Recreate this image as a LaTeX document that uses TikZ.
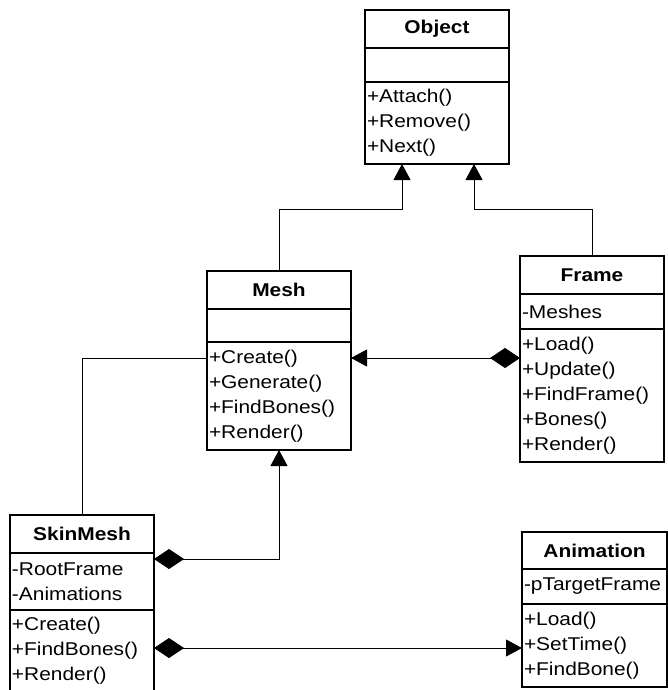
\documentclass[tikz,border=0pt]{standalone}
\usepackage{fontspec}
\setmainfont{Liberation Sans}[FakeStretch=1.13]
\usetikzlibrary{positioning,calc,arrows.meta}

\tikzset{
	cls/.style={draw, line width=1.5pt, inner xsep=2pt, inner ysep=0pt, outer sep=0pt, minimum width=144pt, text width=140pt},
	clsname/.style={cls, anchor=north west, align=center, font=\fontsize{18.5}{25}\selectfont\bfseries},
	clspart/.style={cls, align=left, font=\fontsize{18.5}{25}\selectfont},
	isa/.style={line width=0.8pt, -{Triangle[length=16pt,width=17pt]}},
	has/.style={line width=0.8pt, {Diamond[length=30pt,width=20pt]}-{Triangle[length=16pt,width=17pt]}},
	link/.style={line width=0.8pt}
}

\begin{document}
\begin{tikzpicture}[x=1pt,y=-1pt]
	\useasboundingbox (0,0) rectangle (668,690);
	
	% Object
	\node[clsname, minimum height=38pt] (obj) at (365,10) {Object};
	\node[clspart, minimum height=34pt, below=0pt of obj] (objA) {};
	\node[clspart, minimum height=82pt, below=0pt of objA] (objM) {+Attach()\\+Remove()\\+Next()};
	
	% Mesh
	\node[clsname, minimum height=38pt] (mesh) at (207,271) {Mesh};
	\node[clspart, minimum height=33pt, below=0pt of mesh] (meshA) {};
	\node[clspart, minimum height=108pt, below=0pt of meshA] (meshM) {+Create()\\+Generate()\\+FindBones()\\+Render()};
	
	% Frame
	\node[clsname, minimum height=38pt] (frame) at (520,256) {Frame};
	\node[clspart, minimum height=35pt, below=0pt of frame] (frameA) {-Meshes};
	\node[clspart, minimum height=133pt, below=0pt of frameA] (frameM) {+Load()\\+Update()\\+FindFrame()\\+Bones()\\+Render()};
	
	% SkinMesh
	\node[clsname, minimum height=38pt] (skin) at (10,515) {SkinMesh};
	\node[clspart, minimum height=57pt, below=0pt of skin] (skinA) {-RootFrame\\-Animations};
	\node[clspart, minimum height=82pt, below=0pt of skinA] (skinM) {+Create()\\+FindBones()\\+Render()};
	
	% Animation
	\node[clsname, minimum height=37pt, minimum width=145pt, text width=141pt] (anim) at (522,532) {Animation};
	\node[clspart, minimum height=35pt, minimum width=145pt, text width=141pt, below=0pt of anim] (animA) {-pTargetFrame};
	\node[clspart, minimum height=83pt, minimum width=145pt, text width=141pt, below=0pt of animA] (animM) {+Load()\\+SetTime()\\+FindBone()};
	
	% Bend points
	\coordinate (objL) at ($(objM.south)+(-35,0)$);
	\coordinate (objR) at ($(objM.south)+(37,0)$);
	\coordinate (fm) at ($(frameM.north west)+(0,29)$);
	\coordinate (ms) at ($(meshM.north west)+(0,16)$);
	\coordinate (sm) at ($(skinA.north east)+(0,6)$);
	\coordinate (sa) at ($(skinM.north east)+(0,38)$);
	
	% Connectors
	\draw[isa] (mesh.north) |- ($(objL)+(0,45)$) -- (objL); % Mesh to Object
	\draw[isa] (frame.north) |- ($(objR)+(0,45)$) -- (objR); % Frame to Object
	\draw[has] (fm) -- (fm -| meshM.east); % Frame holds meshes
	\draw[link] (ms) -| (skin.north);
	\draw[has] (sm) -| (meshM.south);
	\draw[has] (sa) -- (sa -| animM.west);
\end{tikzpicture}
\end{document}
